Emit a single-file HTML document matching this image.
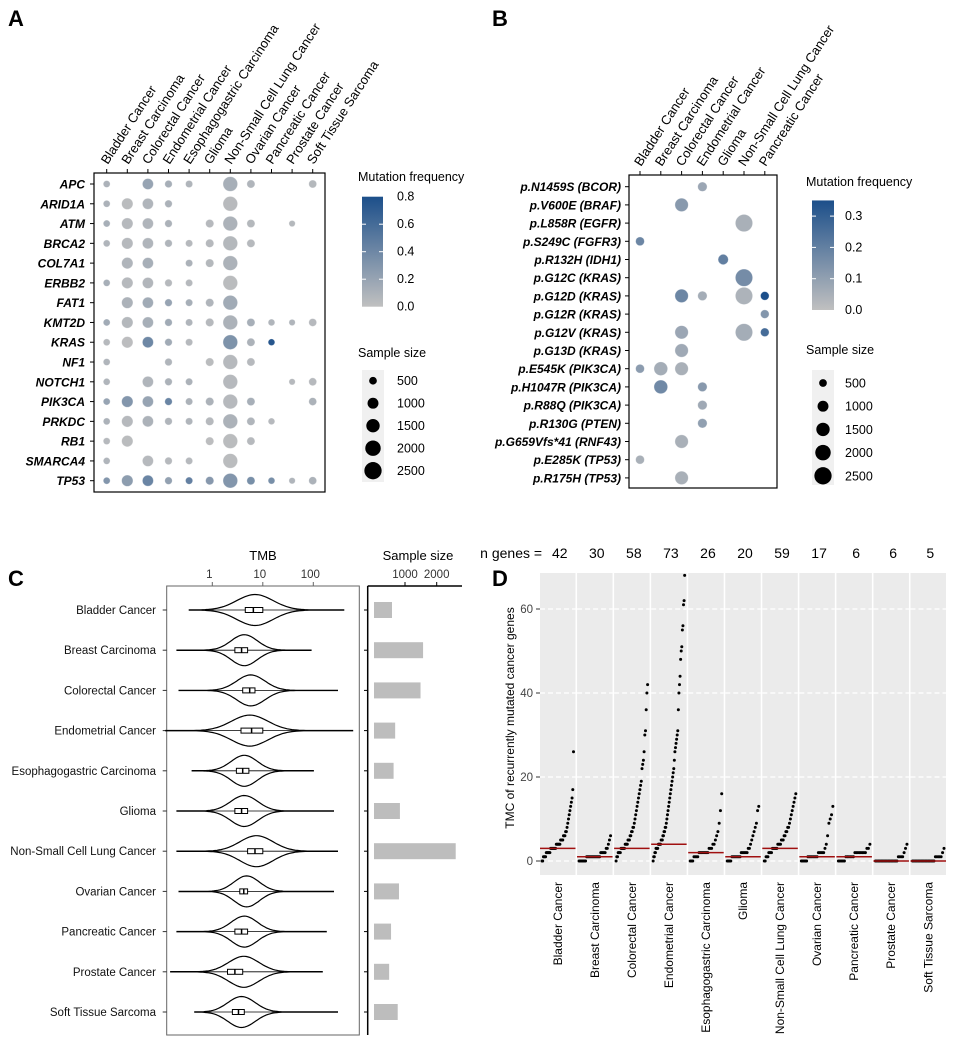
<!DOCTYPE html>
<html><head><meta charset="utf-8"><style>
body{margin:0;background:#fff}
svg{display:block;font-family:"Liberation Sans",Arial,sans-serif}
</style></head><body>
<svg id="fig" width="960" height="1050" viewBox="0 0 960 1050" xmlns="http://www.w3.org/2000/svg">
<g font-weight="bold" font-size="22">
<text x="8" y="26">A</text>
<text x="492" y="26">B</text>
<text x="8" y="586">C</text>
<text x="492" y="586">D</text>
</g>
</svg>
<script>
// ---------- Panel A data ----------
const aCancers = ["Bladder Cancer","Breast Carcinoma","Colorectal Cancer","Endometrial Cancer","Esophagogastric Carcinoma","Glioma","Non-Small Cell Lung Cancer","Ovarian Cancer","Pancreatic Cancer","Prostate Cancer","Soft Tissue Sarcoma"];
const aGenes = ["APC","ARID1A","ATM","BRCA2","COL7A1","ERBB2","FAT1","KMT2D","KRAS","NF1","NOTCH1","PIK3CA","PRKDC","RB1","SMARCA4","TP53"];
const aFreq = [
[.1,null,.2,.12,.08,null,.12,.08,null,null,.06],
[.1,.03,.08,.1,null,null,.04,null,null,null,null],
[.12,.05,.08,.1,null,.05,.1,.06,null,.06,null],
[.08,.05,.08,.08,.05,.05,.06,.05,null,null,null],
[null,.08,.12,null,.1,.06,.1,null,null,null,null],
[.12,.05,.07,.05,.05,null,.03,null,null,null,null],
[null,.1,.15,.2,.12,.08,.15,null,null,null,null],
[.15,.06,.12,.15,.08,.05,.1,.12,.08,.08,.05],
[.05,.02,.4,.15,.05,null,.32,.1,.75,null,null],
[.08,null,null,.08,null,.03,.05,.05,null,null,null],
[.08,null,.08,.1,.1,null,.05,null,null,.05,.05],
[.2,.3,.2,.42,.1,.1,.05,.12,null,null,.1],
[.1,.05,.1,.08,.08,.05,.1,.08,.05,null,null],
[.05,.03,null,null,null,.02,.03,.05,null,null,null],
[.08,null,.05,.05,.05,null,.03,null,null,null,null],
[.3,.25,.42,.22,.45,.28,.3,.35,.35,.08,.1]];
const sampleSize = [590,1570,1490,690,640,840,2600,810,560,500,770];
const sizeLegend = [500,1000,1500,2000,2500];
const aColorTicks = [0,0.2,0.4,0.6,0.8];
// ---------- Panel B data ----------
const bCancers = ["Bladder Cancer","Breast Carcinoma","Colorectal Cancer","Endometrial Cancer","Glioma","Non-Small Cell Lung Cancer","Pancreatic Cancer"];
const bSizes = [590,1570,1490,690,840,2600,560];
const bMuts = ["p.N1459S (BCOR)","p.V600E (BRAF)","p.L858R (EGFR)","p.S249C (FGFR3)","p.R132H (IDH1)","p.G12C (KRAS)","p.G12D (KRAS)","p.G12R (KRAS)","p.G12V (KRAS)","p.G13D (KRAS)","p.E545K (PIK3CA)","p.H1047R (PIK3CA)","p.R88Q (PIK3CA)","p.R130G (PTEN)","p.G659Vfs*41 (RNF43)","p.E285K (TP53)","p.R175H (TP53)"];
const bFreq = [
[null,null,null,.08,null,null,null],
[null,null,.12,null,null,null,null],
[null,null,null,null,null,.05,null],
[.18,null,null,null,null,null,null],
[null,null,null,null,.2,null,null],
[null,null,null,null,null,.16,null],
[null,null,.18,.06,null,.04,.35],
[null,null,null,null,null,null,.13],
[null,null,.08,null,null,.06,.26],
[null,null,.07,null,null,null,null],
[.11,.06,.05,null,null,null,null],
[null,.17,null,.12,null,null,null],
[null,null,null,.07,null,null,null],
[null,null,null,.1,null,null,null],
[null,null,.05,null,null,null,null],
[.05,null,null,null,null,null,null],
[null,null,.05,null,null,null,null]];
const bColorTicks = [0,0.1,0.2,0.3];
// ---------- Panel C data ----------
const cCancers = aCancers;
const tmbMin = [0.35,0.2,0.22,0.12,0.4,0.2,0.2,0.22,0.2,0.15,0.45];
const tmbQ1 = [4.5,2.8,4,3.7,3,2.8,5,3.5,2.8,2,2.5];
const tmbMed = [6.5,3.8,5.5,6,4,3.8,7,4.2,3.8,2.8,3.3];
const tmbQ3 = [10,5,7,10,5.3,5,10,5,5,4,4.3];
const tmbMax = [400,90,300,600,100,250,300,250,180,150,300];
const tmbMode = [7,4.3,5.8,5.5,4.3,4.3,7.5,4.8,4.3,4.2,3.8];
const tmbSpread = [0.36,0.26,0.28,0.36,0.26,0.27,0.33,0.25,0.26,0.3,0.27];
const tmbTicks = [1,10,100];
const barTicks = [1000,2000];
// ---------- Panel D data ----------
const dCounts = [42,30,58,73,26,20,59,17,6,6,5];
const dMedian = [3,1,3,4,2,1,3,1,1,0,0];
const dTicks = [0,20,40,60];
const dVals = [
[0,0,1,1,1,1,2,2,2,2,2,2,3,3,3,3,3,3,3,3,4,4,4,4,4,4,5,5,5,5,6,6,6,7,7,8,9,10,11,12,13,14,15,17,26],
[0,0,0,0,0,0,0,1,1,1,1,1,1,1,1,1,1,1,1,1,2,2,2,2,2,3,3,4,5,6],
[0,1,1,2,2,2,2,3,3,3,3,3,3,4,4,4,4,5,5,5,6,6,7,7,8,8,9,10,11,12,13,14,15,16,17,18,19,22,23,24,26,30,31,36,40,42],
[0,1,1,2,2,3,3,3,3,4,4,4,4,4,5,5,5,6,6,7,7,8,8,9,10,11,12,13,14,15,16,17,18,19,20,21,22,24,26,27,28,29,30,31,36,40,42,44,48,50,51,55,56,61,62,68],
[0,0,0,1,1,1,1,2,2,2,2,2,2,2,2,3,3,3,4,4,5,6,7,9,12,16],
[0,0,0,0,1,1,1,1,1,1,1,1,2,2,2,2,2,2,3,3,4,5,6,7,8,9,12,13],
[0,0,1,1,1,2,2,2,2,3,3,3,3,3,3,4,4,4,4,5,5,5,6,6,7,7,8,8,9,10,11,12,13,14,15,16],
[0,0,0,0,0,1,1,1,1,1,1,1,1,2,2,2,2,2,3,4,6,9,10,11,13],
[0,0,0,0,0,1,1,1,1,1,1,2,2,2,2,2,2,2,2,3,3,4],
[0,0,0,0,0,0,0,0,0,0,0,0,0,0,0,0,1,1,1,1,2,3,4],
[0,0,0,0,0,0,0,0,0,0,0,0,0,0,0,0,1,1,1,1,1,2,3]];

const NS="http://www.w3.org/2000/svg";
const svg=document.getElementById('fig');
function el(tag,attrs,parent,txt){const e=document.createElementNS(NS,tag);for(const k in attrs)e.setAttribute(k,attrs[k]);if(txt!==undefined)e.textContent=txt;(parent||svg).appendChild(e);return e;}
function mix(v,max){const t=Math.max(0,Math.min(1,v/max));const a=[192,192,192],b=[28,79,138];return `rgb(${a.map((c,i)=>Math.round(c+(b[i]-c)*t)).join(',')})`;}
const rScale=n=>0.144*Math.sqrt(n);

const defs=el('defs',{});
const lg=el('linearGradient',{id:'grad',x1:0,y1:1,x2:0,y2:0},defs);
el('stop',{offset:'0','stop-color':'rgb(192,192,192)'},lg);el('stop',{offset:'1','stop-color':'rgb(28,79,138)'},lg);

// ---------- Panel A ----------
(function(){
const g=el('g',{});

const x0=94,x1=325,y0=173,y1=492;
const cx=i=>106.7+i*20.6, cy=j=>184+j*19.78;
el('rect',{x:x0,y:y0,width:x1-x0,height:y1-y0,fill:'#fff',stroke:'#000','stroke-width':1.2},g);
aCancers.forEach((c,i)=>{
 el('line',{x1:cx(i),x2:cx(i),y1:y0-4,y2:y0,stroke:'#000'},g);
 const tx=cx(i)+1, ty=y0-8;
 const t=el('text',{x:tx,y:ty,'font-size':13,transform:`rotate(-57 ${tx} ${ty})`},g,c);
 
});
aGenes.forEach((gn,j)=>{
 el('line',{x1:x0-4,x2:x0,y1:cy(j),y2:cy(j),stroke:'#000'},g);
 const t=el('text',{x:x0-9,y:cy(j)+4.5,'font-size':12,'font-style':'italic','font-weight':'bold','text-anchor':'end'},g,gn);
 
 aFreq[j].forEach((v,i)=>{ if(v===null)return;
  const c=el('circle',{cx:cx(i),cy:cy(j),r:rScale(sampleSize[i]),fill:mix(v,0.8),stroke:'rgba(255,255,255,0.5)','stroke-width':0.7},g);
  
 });
});
el('text',{x:358,y:181,'font-size':12.5},g,'Mutation frequency');
const by=v=>306.7-v/0.8*110;
el('rect',{x:362,y:by(0.8),width:21,height:110,fill:'url(#grad)'},g);
aColorTicks.forEach(v=>{el('text',{x:397,y:by(v)+4,'font-size':12.5},g,v.toFixed(1));
 if(v>0&&v<0.8){el('line',{x1:362,x2:366,y1:by(v),y2:by(v),stroke:'#fff'},g);el('line',{x1:379,x2:383,y1:by(v),y2:by(v),stroke:'#fff'},g);}});
el('text',{x:358,y:357,'font-size':12.5},g,'Sample size');
el('rect',{x:362,y:370,width:22,height:112,fill:'#f0f0f0'},g);
sizeLegend.forEach((n,k)=>{const y=380.7+k*22.5;
 el('circle',{cx:373,cy:y,r:rScale(n)*1.2,fill:'#000'},g);
 el('text',{x:397,y:y+4.5,'font-size':12.5},g,String(n));});
})();

// ---------- Panel B ----------
(function(){
const g=el('g',{});

const x0=629,x1=777,y0=175,y1=488;
const cx=i=>640+i*20.8, cy=j=>186.7+j*18.2;
el('rect',{x:x0,y:y0,width:x1-x0,height:y1-y0,fill:'#fff',stroke:'#000','stroke-width':1.2},g);
bCancers.forEach((c,i)=>{
 el('line',{x1:cx(i),x2:cx(i),y1:y0-4,y2:y0,stroke:'#000'},g);
 const tx=cx(i)+1, ty=y0-8;
 const t=el('text',{x:tx,y:ty,'font-size':13,transform:`rotate(-57 ${tx} ${ty})`},g,c);
 
});
bMuts.forEach((m,j)=>{
 el('line',{x1:x0-4,x2:x0,y1:cy(j),y2:cy(j),stroke:'#000'},g);
 const t=el('text',{x:x0-8,y:cy(j)+4.5,'font-size':12,'font-style':'italic','font-weight':'bold','text-anchor':'end'},g,m);
 
 bFreq[j].forEach((v,i)=>{ if(v===null)return;
  const c=el('circle',{cx:cx(i),cy:cy(j),r:rScale(bSizes[i])*1.1+0.6,fill:mix(v,0.35),stroke:'rgba(255,255,255,0.5)','stroke-width':0.7},g);
  
 });
});
el('text',{x:806,y:186,'font-size':12.5},g,'Mutation frequency');
const by=v=>310-v*313;
el('rect',{x:812,y:by(0.35),width:22,height:by(0)-by(0.35),fill:'url(#grad)'},g);
bColorTicks.forEach(v=>{el('text',{x:845,y:by(v)+4,'font-size':12.5},g,v.toFixed(1));
 if(v>0){el('line',{x1:812,x2:816,y1:by(v),y2:by(v),stroke:'#fff'},g);el('line',{x1:830,x2:834,y1:by(v),y2:by(v),stroke:'#fff'},g);}});
el('text',{x:806,y:354,'font-size':12.5},g,'Sample size');
el('rect',{x:812,y:370,width:22,height:115,fill:'#f0f0f0'},g);
sizeLegend.forEach((n,k)=>{const y=383+k*23.2;
 el('circle',{cx:823,cy:y,r:rScale(n)*1.2,fill:'#000'},g);
 el('text',{x:845,y:y+4.5,'font-size':12.5},g,String(n));});
})();

// ---------- Panel C ----------
(function(){
const g=el('g',{});

const x0=166.7,x1=359.3,y0=586,y1=1035;
const lx=v=>212.3+50.5*Math.log10(v);
const ry=i=>610+i*40.2;
el('rect',{x:x0,y:y0,width:x1-x0,height:y1-y0,fill:'#fff',stroke:'#666','stroke-width':1},g);
el('text',{x:263,y:560,'font-size':13,'text-anchor':'middle'},g,'TMB');
tmbTicks.forEach(v=>{el('line',{x1:lx(v),x2:lx(v),y1:y0-4,y2:y0,stroke:'#666'},g);
 el('text',{x:lx(v)-3,y:578,'font-size':11.5,'text-anchor':'middle',fill:'#333'},g,String(v));});
cCancers.forEach((c,i)=>{
 const y=ry(i);
 el('line',{x1:x0-4,x2:x0,y1:y,y2:y,stroke:'#333'},g);
 const t=el('text',{x:156,y:y+4,'font-size':11.5,'text-anchor':'end',fill:'#111'},g,c);
 
 const a=Math.log10(tmbMin[i]),b=Math.log10(tmbMax[i]),m=Math.log10(tmbMode[i]),s=tmbSpread[i];
 let top=[],bot=[];
 for(let k=0;k<=80;k++){const L=a+(b-a)*k/80;const w=Math.max(0.15,15.5*Math.exp(-0.5*((L-m)/s)**2));
  top.push([lx(10**L),y-w]);bot.push([lx(10**L),y+w]);}
 const d='M'+top.map(p=>p.map(q=>q.toFixed(1)).join(',')).join('L')+'L'+bot.reverse().map(p=>p.map(q=>q.toFixed(1)).join(',')).join('L')+'Z';
 const v=el('path',{d:d,fill:'#fff',stroke:'#000','stroke-width':1.2},g);
 
 el('line',{x1:lx(tmbMin[i]),x2:lx(tmbMax[i]),y1:y,y2:y,stroke:'#000','stroke-width':0.8},g);
 el('rect',{x:lx(tmbQ1[i]),y:y-2.5,width:lx(tmbQ3[i])-lx(tmbQ1[i]),height:5,fill:'#fff',stroke:'#000','stroke-width':1},g);
 el('line',{x1:lx(tmbMed[i]),x2:lx(tmbMed[i]),y1:y-2.5,y2:y+2.5,stroke:'#000','stroke-width':1.5},g);
});
const bx=n=>373.3+n*0.0317;
el('text',{x:418,y:560,'font-size':13,'text-anchor':'middle'},g,'Sample size');
el('line',{x1:367.7,x2:367.7,y1:y0,y2:y1,stroke:'#000','stroke-width':1.5},g);
el('line',{x1:367.7,x2:462,y1:y0,y2:y0,stroke:'#000','stroke-width':1.5},g);
barTicks.forEach(n=>{el('line',{x1:bx(n),x2:bx(n),y1:y0-4,y2:y0,stroke:'#000'},g);
 el('text',{x:bx(n),y:578,'font-size':11.5,'text-anchor':'middle',fill:'#333'},g,String(n));});
sampleSize.forEach((n,i)=>{const y=ry(i);
 el('line',{x1:364,x2:367.7,y1:y,y2:y,stroke:'#000'},g);
 const r=el('rect',{x:374,y:y-8,width:bx(n)-374,height:16,fill:'#bdbdbd'},g);
 });
})();

// ---------- Panel D ----------
(function(){
const g=el('g',{});

const px0=540,pw=35.5,gap=1.55,yt=573,yb=875;
const yv=v=>861-v*4.2;
const pl=i=>px0+i*(pw+gap);
el('text',{x:530,y:558,'font-size':14,'text-anchor':'end'},g,'n genes');
el('text',{x:538,y:558,'font-size':14,'text-anchor':'middle'},g,'=');
dVals.forEach((vals,i)=>{
 const L=pl(i);
 el('rect',{x:L,y:yt,width:pw,height:yb-yt,fill:'#ebebeb'},g);
 dTicks.forEach(t=>el('line',{x1:L,x2:L+pw,y1:yv(t),y2:yv(t),stroke:'#fff','stroke-width':1.2,'stroke-dasharray':'5,3'},g));
 el('text',{x:L+pw/2+2,y:558,'font-size':14,'text-anchor':'middle'},g,String(dCounts[i]));
 const t=el('text',{x:L+pw/2+4,y:882,'font-size':12,'text-anchor':'end',transform:`rotate(-90 ${L+pw/2+4} 882)`},g,aCancers[i]);
 
 const n=vals.length;
 vals.forEach((v,k)=>{const x=L+2+(pw-4)*k/(n-1);
  const c=el('circle',{cx:x.toFixed(2),cy:yv(v),r:1.5,fill:'#000'},g);
  });
 const m=el('line',{x1:L,x2:L+pw,y1:yv(dMedian[i]),y2:yv(dMedian[i]),stroke:'#a01010','stroke-width':1.5},g);
 
});
dTicks.forEach(t=>{el('line',{x1:536,x2:540,y1:yv(t),y2:yv(t),stroke:'#333'},g);
 el('text',{x:533,y:yv(t)+4,'font-size':11.5,'text-anchor':'end',fill:'#444'},g,String(t));});
el('text',{x:514,y:718,'font-size':12,'text-anchor':'middle',transform:'rotate(-90 514 718)'},g,'TMC of recurrently mutated cancer genes');
})();
</script>
</body></html>
